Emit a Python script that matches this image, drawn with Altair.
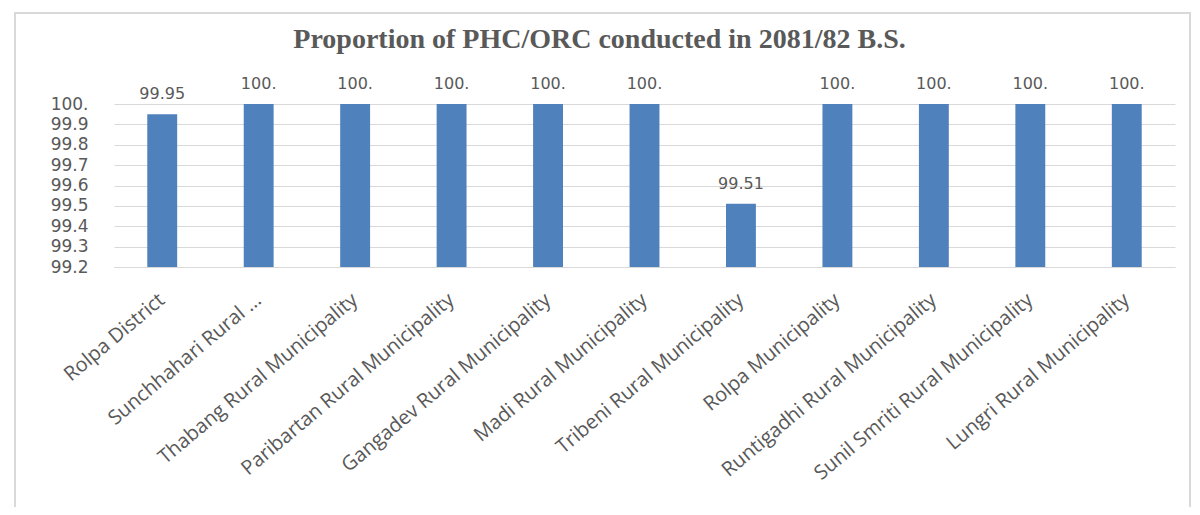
import altair as alt
import pandas as pd

categories = [
    "Rolpa District",
    "Sunchhahari Rural ...",
    "Thabang Rural Municipality",
    "Paribartan Rural Municipality",
    "Gangadev Rural Municipality",
    "Madi Rural Municipality",
    "Tribeni Rural Municipality",
    "Rolpa Municipality",
    "Runtigadhi Rural Municipality",
    "Sunil Smriti Rural Municipality",
    "Lungri Rural Municipality",
]
values = [99.95, 100, 100, 100, 100, 100, 99.51, 100, 100, 100, 100]
y_ticks = [99.2, 99.3, 99.4, 99.5, 99.6, 99.7, 99.8, 99.9, 100.0]
title_text = ["Proportion of PHC/ORC conducted in 2081/82 B.S."]

df = pd.DataFrame({"cat": categories, "val": values})
df["label"] = ["100." if v == 100 else f"{v:g}" for v in values]
df["base"] = 99.2

W, H = 1061, 163
PL, PT = 106, 96
PR = 1184 - PL - W
PB = 499 - PT - H

x = alt.X("cat:N", sort=categories, title=None,
          scale=alt.Scale(paddingInner=0.69, paddingOuter=0.345),
          axis=alt.Axis(labelAngle=-40, labelAlign="right", labelBaseline="middle",
                        labelFont="Open Sans", labelFontSize=20, labelColor="#595959",
                        labelPadding=30, ticks=False, domainColor="#D9D9D9",
                        labelLimit=400))
y = alt.Y("val:Q", title=None,
          scale=alt.Scale(domain=[99.2, 100], zero=False, nice=False),
          axis=alt.Axis(values=y_ticks, labelFont="DejaVu Sans", labelFontSize=17,
                        labelColor="#595959", ticks=False, domain=False,
                        labelOverlap=False, labelBaseline="middle",
                        gridColor="#D9D9D9", labelPadding=26,
                        labelExpr="datum.value == 100 ? '100.' : format(datum.value, '.1f')"))

bars = alt.Chart(df).mark_bar(color="#4F81BD").encode(x=x, y=y, y2="base:Q")
labels = alt.Chart(df).mark_text(font="DejaVu Sans", fontSize=16, color="#595959",
                                 baseline="bottom", dy=-12).encode(
    x=x, y=y, text="label:N")

frame = alt.Chart(df).mark_rect(fill=None, stroke="#D9D9D9", strokeWidth=2).encode(
    x=alt.value(-99), x2=alt.value(W + 15), y=alt.value(-91), y2=alt.value(H + 260))

title = alt.Chart(pd.DataFrame({"t": title_text})).mark_text(
    font="Liberation Serif", fontSize=28, fontWeight="bold", color="#595959",
    align="center", baseline="middle").encode(
    text="t:N", x=alt.value(W / 2 - 45), y=alt.value(-64))

chart = alt.layer(frame, bars, labels, title).properties(
    width=W, height=H,
    autosize=alt.AutoSizeParams(type="none"),
    padding={"left": PL, "top": PT, "right": PR, "bottom": PB},
).configure_view(stroke=None)

chart.save("out.html", embed_options={"renderer": "svg", "actions": False})
